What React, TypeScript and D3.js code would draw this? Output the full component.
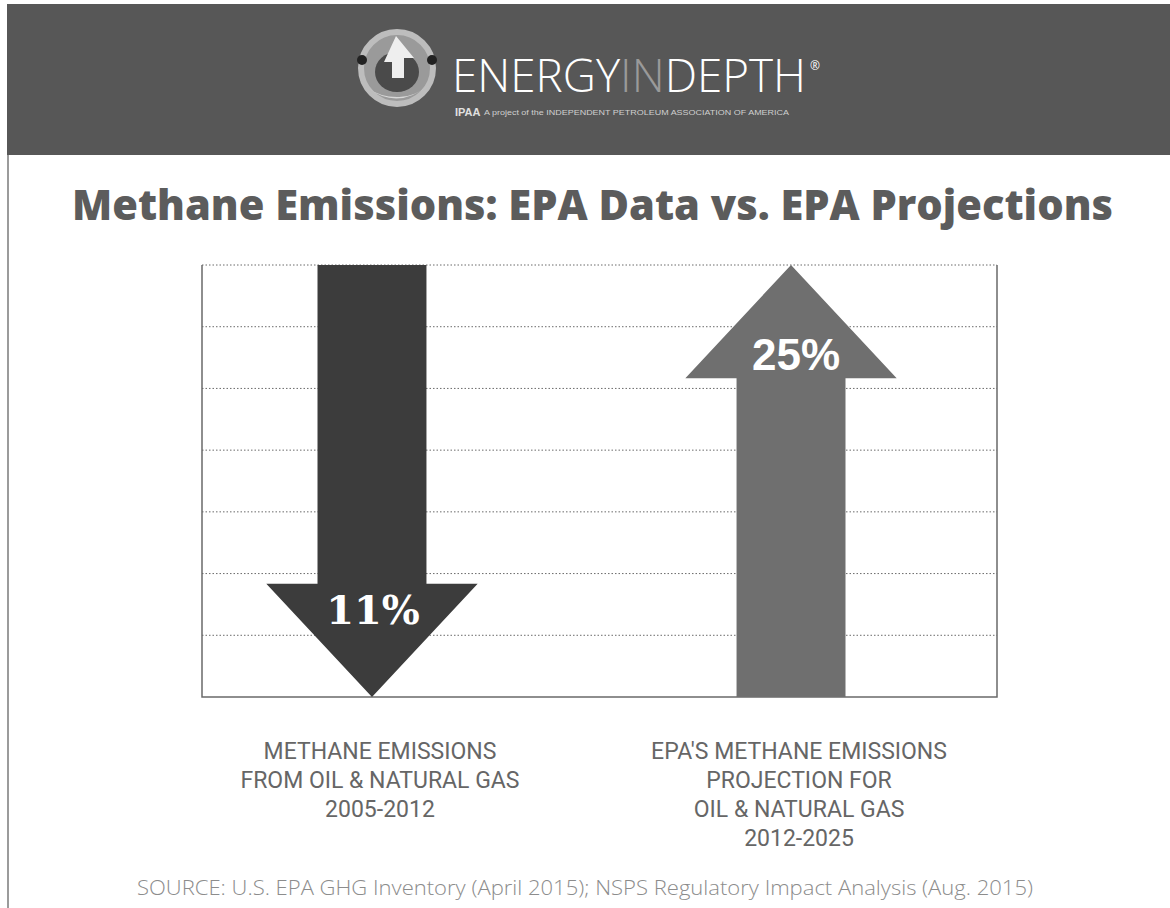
import React from "react";
import * as d3 from "d3";

const categories = ["oil-gas-2005-2012", "epa-projection-2012-2025"];
const values = [-11, 25];
const valueLabels = ["11%", "25%"];
const categoryLabels = [
  ["METHANE EMISSIONS", "FROM OIL & NATURAL GAS", "2005-2012"],
  ["EPA'S METHANE EMISSIONS", "PROJECTION FOR", "OIL & NATURAL GAS", "2012-2025"],
];
const gridSteps = 7;
const titleText = "Methane Emissions: EPA Data vs. EPA Projections";
const sourceText =
  "SOURCE: U.S. EPA GHG Inventory (April 2015); NSPS Regulatory Impact Analysis (Aug. 2015)";

const W = 1170;
const H = 908;
const plot = { left: 202, right: 997, top: 265, bottom: 697 };

export default function App() {
  const x = d3
    .scaleBand<string>()
    .domain(categories)
    .range([plot.left, plot.right])
    .paddingInner(0.74)
    .paddingOuter(0.3186)
    .align(0.4326);
  const y = d3.scaleLinear().domain([0, gridSteps]).range([plot.bottom, plot.top]);
  const bw = x.bandwidth();
  const headHalf = bw * 0.97;
  const headLen = bw * 1.04;
  const gridTicks = y.ticks(gridSteps).filter((t) => t > 0);

  const arrowPath = (cx: number, v: number) => {
    const yBase = y(0);
    const yEnd = y(gridSteps);
    const p = d3.path();
    if (v < 0) {
      const hb = yBase - headLen;
      p.moveTo(cx - bw / 2, yEnd);
      p.lineTo(cx + bw / 2, yEnd);
      p.lineTo(cx + bw / 2, hb);
      p.lineTo(cx + headHalf, hb);
      p.lineTo(cx, yBase);
      p.lineTo(cx - headHalf, hb);
      p.lineTo(cx - bw / 2, hb);
    } else {
      const hb = yEnd + headLen;
      p.moveTo(cx - bw / 2, yBase);
      p.lineTo(cx + bw / 2, yBase);
      p.lineTo(cx + bw / 2, hb);
      p.lineTo(cx + headHalf, hb);
      p.lineTo(cx, yEnd);
      p.lineTo(cx - headHalf, hb);
      p.lineTo(cx - bw / 2, hb);
    }
    p.closePath();
    return p.toString();
  };

  const arrowFill = ["#3c3c3c", "#6f6f6f"];

  return (
    <svg
      width={W}
      height={H}
      style={{ position: "absolute", left: 0, top: 0, background: "#fff" }}
    >
      {/* header band */}
      <rect x={7} y={4} width={W - 7} height={151} fill="#575757" />
      {/* logo globe */}
      <g>
        <circle cx={397} cy={68} r={36} fill="#9a9a9a" />
        <circle cx={397} cy={68} r={36} fill="none" stroke="#bdbdbd" strokeWidth={6} />
        <ellipse cx={397} cy={72} rx={22} ry={20} fill="#4a4a4a" />
        <path d="M368,88 Q397,110 428,86 Q412,98 397,97 Q380,97 368,88 Z" fill="#d8d8d8" />
        <path d="M384,62 L396,36 L414,58 L404,58 L404,78 L392,78 L392,62 Z" fill="#eeeeee" />
        <circle cx={362} cy={60} r={5} fill="#222" />
        <circle cx={432} cy={60} r={5} fill="#222" />
      </g>
      <text
        x={452}
        y={92}
        fontFamily="'Open Sans', sans-serif"
        fontWeight={300}
        fontSize={46}
        textLength={354}
        lengthAdjust="spacingAndGlyphs"
        fill="#ffffff"
      >
        ENERGY<tspan fill="#9a9a9a">IN</tspan>DEPTH
      </text>
      <text x={810} y={70} fontFamily="'Open Sans', sans-serif" fontSize={12} fill="#fff">
        ®
      </text>
      <text
        x={455}
        y={116}
        fontFamily="'Liberation Sans', sans-serif"
        fontWeight={700}
        fontSize={11}
        fill="#e0e0e0"
      >
        IPAA
      </text>
      <text
        x={484}
        y={115}
        fontFamily="'Liberation Sans', sans-serif"
        fontSize={8}
        textLength={305}
        lengthAdjust="spacingAndGlyphs"
        fill="#cfcfcf"
      >
        A project of the INDEPENDENT PETROLEUM ASSOCIATION OF AMERICA
      </text>

      {/* left page border */}
      <line x1={8} x2={8} y1={155} y2={H} stroke="#7a7a7a" strokeWidth={1.5} />

      {/* title */}
      <text
        x={72}
        y={220}
        fontFamily="'Open Sans', sans-serif"
        fontWeight={800}
        fontSize={42}
        textLength={1041}
        lengthAdjust="spacingAndGlyphs"
        fill="#5c5c5c"
      >
        {titleText}
      </text>

      {/* gridlines */}
      {gridTicks.map((t) => (
        <line
          key={t}
          x1={plot.left}
          x2={plot.right}
          y1={y(t)}
          y2={y(t)}
          stroke="#6a6a6a"
          strokeWidth={1}
          strokeDasharray="1.5,2"
        />
      ))}
      {/* plot frame */}
      <path
        d={`M${plot.left},${y(gridSteps)}V${y(0)}H${plot.right}V${y(gridSteps)}`}
        fill="none"
        stroke="#6a6a6a"
        strokeWidth={1.5}
      />

      {/* arrows */}
      {categories.map((c, i) => {
        const cx = (x(c) as number) + bw / 2;
        const v = values[i];
        const labelY = v < 0 ? y(0) - headLen + 40 : y(gridSteps) + headLen - 8;
        return (
          <g key={c}>
            <path d={arrowPath(cx, v)} fill={arrowFill[i]} />
            <text
              x={cx + (v < 0 ? 1 : 5)}
              y={labelY}
              textAnchor="middle"
              fontFamily={v < 0 ? "'DejaVu Serif', serif" : "'Liberation Sans', sans-serif"}
              fontWeight={700}
              fontSize={v < 0 ? 40 : 44}
              fill="#ffffff"
            >
              {valueLabels[i]}
            </text>
          </g>
        );
      })}

      {/* category labels */}
      {categories.map((c, i) => {
        const cx = (x(c) as number) + bw / 2 + 8;
        return (
          <text
            key={c}
            x={cx}
            textAnchor="middle"
            fontFamily="Roboto, sans-serif"
            fontSize={23}
            fill="#666666"
          >
            {categoryLabels[i].map((line, j) => (
              <tspan key={j} x={cx} y={759 + j * 29}>
                {line}
              </tspan>
            ))}
          </text>
        );
      })}

      {/* source */}
      <text
        x={137}
        y={895}
        fontFamily="'Open Sans', sans-serif"
        fontWeight={300}
        fontSize={21}
        textLength={896}
        lengthAdjust="spacingAndGlyphs"
        fill="#8c8c8c"
      >
        {sourceText}
      </text>
    </svg>
  );
}
